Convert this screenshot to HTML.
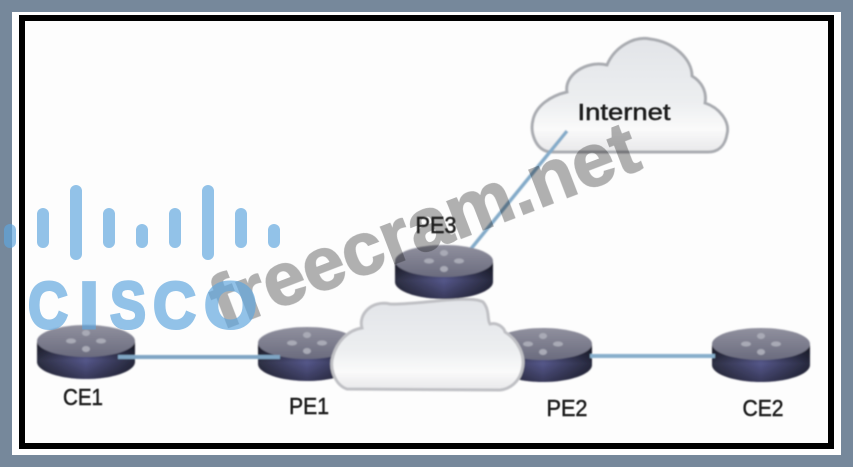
<!DOCTYPE html>
<html><head><meta charset="utf-8"><style>
html,body{margin:0;padding:0;background:#76889b}
svg{display:block}
text{font-family:"Liberation Sans",sans-serif}
</style></head><body>
<svg width="853" height="467" viewBox="0 0 853 467" xmlns="http://www.w3.org/2000/svg">
<defs>
<linearGradient id="body" x1="0" x2="1" y1="0" y2="0">
<stop offset="0" stop-color="#2c2e42"/><stop offset=".5" stop-color="#55578a"/><stop offset="1" stop-color="#26283c"/>
</linearGradient>
<linearGradient id="shade" x1="0" x2="0" y1="0" y2="1">
<stop offset="0" stop-color="#000" stop-opacity=".45"/><stop offset=".5" stop-color="#000" stop-opacity="0"/><stop offset="1" stop-color="#000" stop-opacity=".35"/>
</linearGradient>
<linearGradient id="top" x1="0" x2="0" y1="0" y2="1">
<stop offset="0" stop-color="#90909e"/><stop offset="1" stop-color="#6a6b7e"/>
</linearGradient>
<linearGradient id="cl" x1="0" x2="0" y1="0" y2="1">
<stop offset="0" stop-color="#e2e4e8"/><stop offset=".55" stop-color="#eceef0"/><stop offset=".8" stop-color="#fafafa"/><stop offset="1" stop-color="#e8e8ea"/>
</linearGradient>
<filter id="b" x="-5%" y="-5%" width="110%" height="110%"><feGaussianBlur stdDeviation="0.9"/></filter>
<filter id="t" x="-5%" y="-5%" width="110%" height="110%"><feGaussianBlur stdDeviation="0.5"/></filter>
<g id="r">
<path d="M0 17V37C0 46 22 54 49 54S98 46 98 37V17Z" fill="url(#body)"/>
<path d="M0 17V37C0 46 22 54 49 54S98 46 98 37V17Z" fill="url(#shade)"/>
<ellipse cx="49" cy="16" rx="49" ry="16" fill="url(#top)"/>
<g fill="#a9aab6">
<ellipse cx="49" cy="8" rx="4" ry="3"/><ellipse cx="49" cy="24" rx="4" ry="3"/>
<ellipse cx="34" cy="16" rx="5" ry="2.5"/><ellipse cx="64" cy="16" rx="5" ry="2.5"/>
</g>
</g>
</defs>
<rect width="853" height="467" fill="#76889b"/>
<rect x="12" y="12" width="829" height="443" fill="#fff"/>
<rect x="22" y="18" width="809" height="428" fill="#fdfdfd" stroke="#000" stroke-width="6"/>
<g filter="url(#b)">
<path d="M550 152C535 150 530 132 533 120C536 106 550 96 567 92C564 76 585 60 607 65C615 46 635 36 650 39C675 42 692 60 692 76C702 82 707 92 705 103C720 108 730 122 727 134C725 146 718 152 708 152Z" fill="url(#cl)" stroke="#a9abb0" stroke-width="3"/>
<line x1="567" y1="131" x2="470" y2="250" stroke="#84abc9" stroke-width="3.5"/>
<use href="#r" x="258" y="327"/>
<use href="#r" x="494" y="328"/>
<use href="#r" x="37" y="325"/>
<use href="#r" x="712" y="328"/>
<line x1="118" y1="357" x2="280" y2="357" stroke="#7fa5c4" stroke-width="4"/>
<line x1="590" y1="356" x2="715" y2="356" stroke="#87afcc" stroke-width="4"/>
<path d="M347 389C335 385 329 368 333 356C337 342 348 330 362 328C358 314 372 300 390 304C410 306 470 294 483 302C490 310 487 320 490 324C498 322 504 328 505 332C518 340 526 356 522 370C519 382 510 389 500 390Z" fill="url(#cl)" stroke="#bfc0c4" stroke-width="3"/>
<use href="#r" x="395" y="245"/>
</g>
<text transform="translate(222 330) rotate(-21)" font-size="74" font-weight="700" fill="#b2b2b2" stroke="#b2b2b2" stroke-width="1.5" textLength="452" lengthAdjust="spacingAndGlyphs" style="mix-blend-mode:multiply">freecram.net</text>
<g fill="#1c1c1c" stroke="#1c1c1c" stroke-width=".5" font-size="23" filter="url(#t)">
<text x="83" y="405" text-anchor="middle" textLength="40" lengthAdjust="spacingAndGlyphs">CE1</text>
<text x="309" y="414" text-anchor="middle" textLength="40" lengthAdjust="spacingAndGlyphs">PE1</text>
<text x="567" y="416" text-anchor="middle" textLength="41" lengthAdjust="spacingAndGlyphs">PE2</text>
<text x="763" y="416" text-anchor="middle" textLength="41" lengthAdjust="spacingAndGlyphs">CE2</text>
<text x="436" y="233" text-anchor="middle" textLength="41" lengthAdjust="spacingAndGlyphs">PE3</text>
<text x="624" y="120" text-anchor="middle" textLength="93" lengthAdjust="spacingAndGlyphs">Internet</text>
</g>
<g fill="#5fa6de" stroke="none" opacity=".68">
<rect x="4" y="224" width="12" height="24" rx="6"/>
<rect x="37" y="208" width="12" height="40" rx="6"/>
<rect x="70" y="185" width="12" height="75" rx="6"/>
<rect x="103" y="208" width="12" height="40" rx="6"/>
<rect x="136" y="224" width="12" height="24" rx="6"/>
<rect x="169" y="208" width="12" height="40" rx="6"/>
<rect x="202" y="185" width="12" height="75" rx="6"/>
<rect x="235" y="208" width="12" height="40" rx="6"/>
<rect x="268" y="224" width="12" height="24" rx="6"/>
<g font-size="66" font-weight="700" stroke="#5fa6de" stroke-width="3">
<text x="28" y="328" textLength="40" lengthAdjust="spacingAndGlyphs">C</text>
<text x="79" y="328" textLength="20" lengthAdjust="spacingAndGlyphs">I</text>
<text x="110" y="328" textLength="36" lengthAdjust="spacingAndGlyphs">S</text>
<text x="153" y="328" textLength="43" lengthAdjust="spacingAndGlyphs">C</text>
<text x="204" y="328" textLength="53" lengthAdjust="spacingAndGlyphs">O</text>
</g>
</g>
</svg>
</body></html>
